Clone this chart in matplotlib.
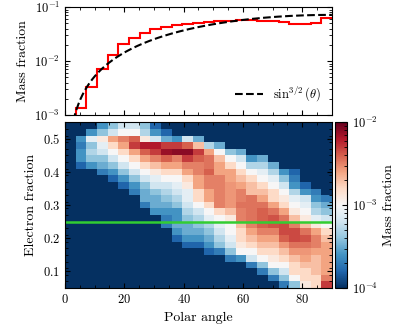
import numpy as np
import matplotlib
matplotlib.use("Agg")
import matplotlib.pyplot as plt
from matplotlib.colors import LogNorm

plt.rcParams['font.family'] = 'serif'
plt.rcParams['font.serif'] = ['cmr10', 'DejaVu Serif']
plt.rcParams['mathtext.fontset'] = 'cm'
plt.rcParams['axes.formatter.use_mathtext'] = True
plt.rcParams['axes.unicode_minus'] = False
plt.rcParams['xtick.direction'] = 'in'
plt.rcParams['ytick.direction'] = 'in'
plt.rcParams['xtick.top'] = True
plt.rcParams['ytick.right'] = True
plt.rcParams['xtick.minor.visible'] = True
plt.rcParams['ytick.minor.visible'] = True

# polar angle bins (degrees) and electron fraction bins
theta_edges = np.linspace(0, 90, 26)
ye_edges = np.linspace(0.05, 0.55, 26)

# mass fraction per polar angle bin (top panel)
mass_frac = [3e-4, 1.33e-3, 3.26e-3, 7.0e-3, 1.28e-2, 2.11e-2, 2.68e-2, 3.37e-2,
             3.88e-2, 4.28e-2, 4.6e-2, 4.86e-2, 5.07e-2, 5.22e-2, 5.45e-2, 5.61e-2,
             5.68e-2, 5.68e-2, 5.61e-2, 5.45e-2, 5.22e-2, 4.94e-2, 4.8e-2, 5.07e-2,
             6.37e-2]

# colour level read per cell, column = angle bin, {ye row: level}
# level L -> mass fraction 10**(-4 + 0.2 L), missing -> empty
col_levels = [
    {},
    {18: 1, 19: 2, 20: 2, 21: 1.5, 22: 2},
    {18: 2, 19: 3, 20: 3.5, 21: 3, 22: 4.5, 23: 2},
    {17: 1.5, 18: 2.5, 19: 3, 20: 4, 21: 4.5, 22: 5.5, 23: 3, 24: 2},
    {16: 1, 17: 2, 18: 3, 19: 4, 20: 5, 21: 6, 22: 7, 23: 4, 24: 3},
    {15: 1, 16: 2, 17: 3, 18: 4, 19: 5, 20: 6, 21: 7, 22: 7.5, 23: 5, 24: 4},
    {14: 1.5, 15: 2, 16: 3, 17: 4, 18: 5, 19: 6, 20: 7, 21: 8.5, 22: 8, 23: 5, 24: 4},
    {12: 1.5, 13: 2.5, 14: 2.5, 15: 3, 16: 4, 17: 5, 18: 6, 19: 7, 20: 8, 21: 9,
     22: 5.5, 23: 3.5, 24: 3},
    {11: 2, 12: 2.5, 13: 2.5, 14: 3, 15: 4, 16: 4.5, 17: 5.5, 18: 6.5, 19: 7.5,
     20: 8.5, 21: 9, 22: 4, 23: 2, 24: 1},
    {9: 1.5, 10: 1.5, 11: 2, 12: 2.5, 13: 3, 14: 3.5, 15: 4, 16: 5, 17: 6, 18: 7,
     19: 8, 20: 9.3, 21: 8.5, 22: 2.5, 23: 1},
    {7: 1, 8: 2, 9: 2.5, 10: 2, 11: 2, 12: 3, 13: 3.5, 14: 4, 15: 4.5, 16: 5, 17: 6,
     18: 7, 19: 7.5, 20: 9.5, 21: 8.5, 22: 2},
    {6: 1, 7: 2, 8: 2.5, 9: 2.5, 10: 3, 11: 3.5, 12: 4, 13: 4.5, 14: 4.5, 15: 5.5,
     16: 6, 17: 7, 18: 7.5, 19: 8.5, 20: 9.5, 21: 8, 22: 4},
    {6: 1, 7: 2, 8: 2.5, 9: 3, 10: 3.5, 11: 4, 12: 5, 13: 6, 14: 6, 15: 7, 16: 7,
     17: 7.5, 18: 7.5, 19: 8, 20: 8.5, 21: 6.5, 22: 2.5},
    {5: 1, 6: 2, 7: 2.5, 8: 3, 9: 3.5, 10: 4.5, 11: 5, 12: 6, 13: 7, 14: 7, 15: 7.5,
     16: 7.5, 17: 8, 18: 7.7, 19: 7.7, 20: 7, 21: 3.5},
    {5: 1.5, 6: 3, 7: 3.5, 8: 4, 9: 4.5, 10: 5, 11: 6, 12: 7.5, 13: 7.5, 14: 7.5,
     15: 7.5, 16: 7.5, 17: 7, 18: 7, 19: 6.5, 20: 5, 21: 2.5},
    {4: 1.5, 5: 3, 6: 4, 7: 4.5, 8: 5, 9: 5, 10: 5.5, 11: 6.5, 12: 7.2, 13: 7.2,
     14: 7.2, 15: 7.2, 16: 7, 17: 7, 18: 6, 19: 5, 20: 3},
    {4: 2, 5: 5, 6: 5.5, 7: 6, 8: 6, 9: 6.5, 10: 7.5, 11: 7.5, 12: 7.7, 13: 7.5,
     14: 7.5, 15: 7, 16: 6.5, 17: 6, 18: 5, 19: 4, 20: 2.5},
    {3: 1.5, 4: 4, 5: 5, 6: 6, 7: 6.5, 8: 7, 9: 7.5, 10: 7.7, 11: 7.7, 12: 7.7,
     13: 7.7, 14: 6.5, 15: 6.5, 16: 6, 17: 5, 18: 3.5, 19: 2},
    {2: 1.5, 3: 3, 4: 5, 5: 6, 6: 6.5, 7: 7, 8: 7.5, 9: 8, 10: 8, 11: 8,
     12: 7.7, 13: 7, 14: 6.5, 15: 6, 16: 5, 17: 4.5, 18: 3.5, 19: 2.5},
    {1: 1.5, 2: 3, 3: 5, 4: 5.5, 5: 6, 6: 6.5, 7: 7, 8: 7.5, 9: 8.2, 10: 8.2,
     11: 7.7, 12: 7, 13: 6, 14: 6, 15: 5, 16: 4.5, 17: 3.5, 18: 2.5},
    {0: 1.5, 1: 3, 2: 4, 3: 5, 4: 6, 5: 6.5, 6: 7.2, 7: 8, 8: 8.3, 9: 8.3, 10: 7.7,
     11: 7, 12: 6, 13: 5.5, 14: 5, 15: 4, 16: 3, 17: 2},
    {0: 3, 1: 5, 2: 6, 3: 6, 4: 6.5, 5: 7.2, 6: 7.7, 7: 8.3, 8: 8.3, 9: 7.5, 10: 6.5,
     11: 5.5, 12: 5, 13: 4.5, 14: 3.5, 15: 2, 16: 1.5, 17: 1},
    {0: 5.5, 1: 6, 2: 6, 3: 6.5, 4: 7, 5: 7.2, 6: 7.7, 7: 8.2, 8: 7.7, 9: 6.5, 10: 5.5,
     11: 5, 12: 4.5, 13: 4, 14: 2, 15: 1},
    {0: 6, 1: 6, 2: 6.5, 3: 6.5, 4: 6.5, 5: 7, 6: 7.5, 7: 7.5, 8: 7, 9: 5.5, 10: 4.5,
     11: 3.5, 12: 3, 13: 2, 14: 1.5},
    {0: 8.5, 1: 7.5, 2: 7, 3: 7, 4: 7, 5: 7, 6: 7, 7: 6.5, 8: 6, 9: 5, 10: 4,
     11: 3, 12: 2.5, 13: 1.5},
]

ye_cut = 0.25

levels = np.zeros((25, 25))
for i, col in enumerate(col_levels):
    for j, lev in col.items():
        levels[j, i] = lev
hist2d = np.ma.masked_where(levels <= 0, 10.0 ** (-4 + 0.2 * levels))

fig = plt.figure(figsize=(4.05, 3.24), dpi=100)
ax1 = fig.add_axes([0.1605, 0.645, 0.659, 0.333])
ax2 = fig.add_axes([0.1605, 0.111, 0.659, 0.5115])
cax = fig.add_axes([0.828, 0.111, 0.028, 0.5115])

# top panel
ax1.stairs(mass_frac, theta_edges, color='red', lw=1.5, baseline=None)
th = np.linspace(0.01, 90, 400)
centers = 0.5 * (theta_edges[1:] + theta_edges[:-1])
norm_const = np.sum(np.sin(np.radians(centers)) ** 1.5)
ax1.plot(th, np.sin(np.radians(th)) ** 1.5 / norm_const, 'k--', lw=1.5,
         label=r'$\sin^{3/2}(\theta)$')
ax1.set_yscale('log')
ax1.set_ylim(1e-3, 1e-1)
ax1.set_xlim(0, 90)
ax1.set_xticks([0, 20, 40, 60, 80])
ax1.set_xticks(np.arange(0, 91, 5), minor=True)
ax1.tick_params(labelbottom=False, labelsize=9)
ax1.set_ylabel('Mass fraction', fontsize=10)
ax1.legend(loc='lower right', frameon=False, fontsize=9, handlelength=2.2)

# bottom panel
cmap = plt.get_cmap('RdBu_r').copy()
cmap.set_bad(cmap(0.0))
mesh = ax2.pcolormesh(theta_edges, ye_edges, hist2d, cmap=cmap,
                      norm=LogNorm(vmin=1e-4, vmax=1e-2))
ax2.set_facecolor(cmap(0.0))
ax2.axhline(ye_cut, color='limegreen', lw=1.8)
ax2.set_xlim(0, 90)
ax2.set_ylim(0.05, 0.55)
ax2.set_xticks([0, 20, 40, 60, 80])
ax2.set_xticks(np.arange(0, 91, 5), minor=True)
ax2.set_yticks([0.1, 0.2, 0.3, 0.4, 0.5])
ax2.set_yticks(np.arange(0.05, 0.551, 0.02), minor=True)
ax2.tick_params(labelsize=9)
ax2.set_xlabel('Polar angle', fontsize=10)
ax2.set_ylabel('Electron fraction', fontsize=10)

cb = fig.colorbar(mesh, cax=cax)
cb.set_label('Mass fraction', fontsize=10)
cax.tick_params(labelsize=9)

fig.savefig('out.png', dpi=100)
